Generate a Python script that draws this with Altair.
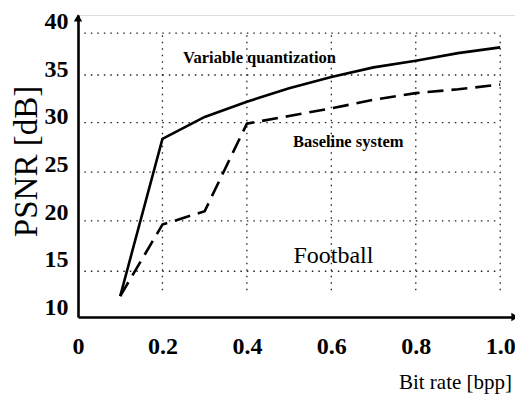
import altair as alt
import pandas as pd

# ---- data ----
bit_rate = [0.1, 0.2, 0.3, 0.4, 0.5, 0.6, 0.7, 0.8, 0.9, 1.0]
variable_quantization = [11.2, 27.7, 30.0, 31.6, 33.0, 34.2, 35.2, 35.9, 36.7, 37.3]
baseline_system = [11.2, 18.7, 20.1, 29.3, 30.1, 30.9, 31.8, 32.5, 32.9, 33.4]

x_ticks = [0, 0.2, 0.4, 0.6, 0.8, 1.0]
y_ticks = [10, 15, 20, 25, 30, 35, 40]
x_grid = [0.2, 0.4, 0.6, 0.8, 1.0]
y_grid = [13.8, 19.1, 24.2, 29.4, 34.4, 38.8]

annot_text = ["Variable quantization", "Baseline system", "Football"]
annot_x = [0.43, 0.64, 0.605]
annot_y = [36.2, 27.4, 15.4]

x_domain = [0, 1.035]
y_domain = [9, 40.7]

FONT = "Liberation Serif"

lines_df = pd.DataFrame({"x": bit_rate, "vq": variable_quantization, "bs": baseline_system})
vgrid_df = pd.DataFrame({"x": x_grid, "y": [11.8] * len(x_grid), "y2": [38.8] * len(x_grid)})
hgrid_df = pd.DataFrame({"y": y_grid, "x": [0.015] * len(y_grid), "x2": [1.0] * len(y_grid)})
annot_df = pd.DataFrame({"x": annot_x, "y": annot_y, "t": annot_text})

xscale = alt.Scale(domain=x_domain, nice=False, zero=False)
yscale = alt.Scale(domain=y_domain, nice=False, zero=False)

x_axis = alt.Axis(
    values=x_ticks,
    labelExpr="datum.value == 0 ? '0' : format(datum.value, '.1f')",
    ticks=False, grid=False,
    domainColor="black", domainWidth=2.6,
    labelFont=FONT, labelFontSize=24, labelFontWeight="bold", labelColor="black",
    labelPadding=17, labelFlush=False,
    title="Bit rate [bpp]", titleFont=FONT, titleFontSize=21, titleFontWeight="normal",
    titleColor="black", titleX=377, titleY=65, titleAlign="center", titleBaseline="middle",
)
y_axis = alt.Axis(
    values=y_ticks,
    ticks=False, grid=False,
    domainColor="black", domainWidth=2.6,
    labelFont=FONT, labelFontSize=24, labelFontWeight="bold", labelColor="black",
    labelPadding=10, labelFlush=False,
    title="PSNR [dB]", titleFont=FONT, titleFontSize=33, titleFontWeight="normal",
    titleColor="black", titleX=-52, titleY=146, titleAlign="center", titleBaseline="middle",
    titleAngle=270,
)

vgrid = alt.Chart(vgrid_df).mark_rule(strokeDash=[1.5, 5], color="#222", strokeWidth=1.3).encode(
    x=alt.X("x:Q", scale=xscale, axis=x_axis),
    y=alt.Y("y:Q", scale=yscale, axis=y_axis),
    y2="y2:Q",
)
hgrid = alt.Chart(hgrid_df).mark_rule(strokeDash=[1.5, 5], color="#222", strokeWidth=1.3).encode(
    x=alt.X("x:Q", scale=xscale),
    x2="x2:Q",
    y=alt.Y("y:Q", scale=yscale),
)

solid = alt.Chart(lines_df).mark_line(color="black", strokeWidth=2.6).encode(
    x=alt.X("x:Q", scale=xscale),
    y=alt.Y("vq:Q", scale=yscale),
)
dashed = alt.Chart(lines_df).mark_line(color="black", strokeWidth=2.6, strokeDash=[16, 8]).encode(
    x=alt.X("x:Q", scale=xscale),
    y=alt.Y("bs:Q", scale=yscale),
)

bold_labels = alt.Chart(annot_df.iloc[:2]).mark_text(
    font=FONT, fontSize=16.5, fontWeight="bold", color="black", align="center", baseline="middle"
).encode(x=alt.X("x:Q", scale=xscale), y=alt.Y("y:Q", scale=yscale), text="t:N")
football = alt.Chart(annot_df.iloc[2:]).mark_text(
    font=FONT, fontSize=24, fontWeight="normal", color="black", align="center", baseline="middle"
).encode(x=alt.X("x:Q", scale=xscale), y=alt.Y("y:Q", scale=yscale), text="t:N")

arrow_df = pd.DataFrame({
    "x": [x_domain[0], x_domain[1]],
    "y": [y_domain[1] - 0.3, y_domain[0]],
    "s": ["triangle-up", "triangle-right"],
})
arrows = alt.Chart(arrow_df).mark_point(filled=True, color="black", size=70, opacity=1).encode(
    x=alt.X("x:Q", scale=xscale),
    y=alt.Y("y:Q", scale=yscale),
    shape=alt.Shape("s:N", scale=None, legend=None),
)

chart = alt.layer(vgrid, hgrid, solid, dashed, bold_labels, football, arrows).properties(
    width=437, height=302,
    autosize=alt.AutoSizeParams(type="none"),
    padding={"left": 70, "top": 7, "right": 0, "bottom": 77},
).configure_view(stroke=None).configure(background="white")

chart.save("out.html", embed_options={"renderer": "svg", "actions": False})
